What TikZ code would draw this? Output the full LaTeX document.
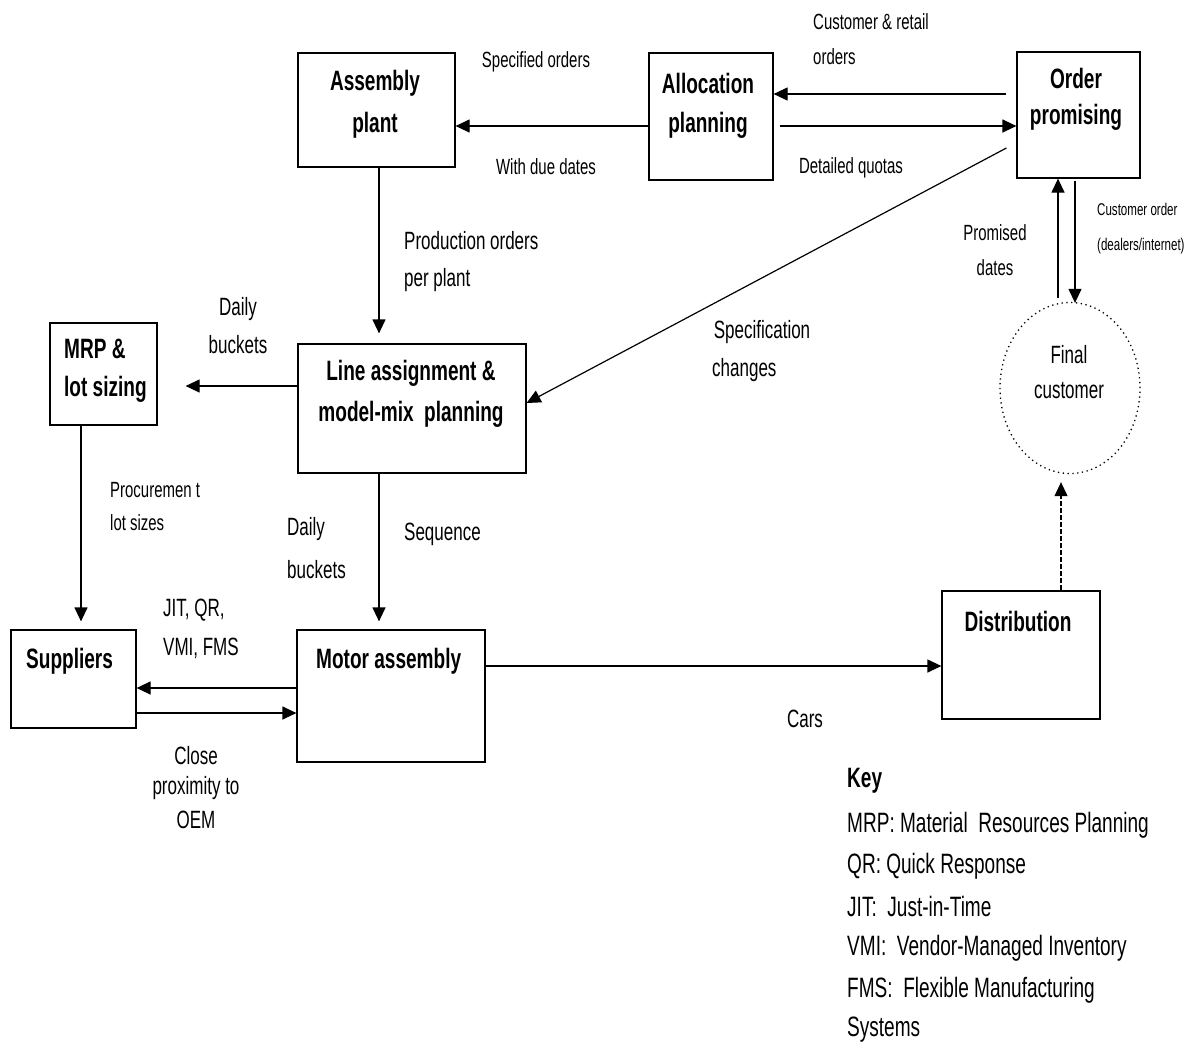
\documentclass[tikz,border=0pt]{standalone}
\usepackage{fontspec}
\setmainfont[FakeStretch=0.68]{Liberation Sans}
\usetikzlibrary{arrows.meta,shapes.geometric}
\begin{document}
\begin{tikzpicture}[x=1pt,y=-1pt,
  box/.style={draw, line width=1.2pt, inner sep=0pt},
  arr/.style={line width=1.2pt, -{Triangle[length=14pt,width=13pt]}},
  btxt/.style={font=\fontsize{28}{34}\selectfont\bfseries, inner sep=0pt, align=center},
  lbl/.style={font=\fontsize{25}{30}\selectfont, inner sep=0pt, align=center},
  lbls/.style={font=\fontsize{22}{27}\selectfont, inner sep=0pt, align=center},
  lblxs/.style={font=\fontsize{17}{20}\selectfont, inner sep=0pt},
  keytxt/.style={font=\fontsize{28}{34}\selectfont, inner sep=0pt, anchor=west}]
\useasboundingbox (0,0) rectangle (1189,1045);
% boxes
\node[box, minimum width=157pt, minimum height=114pt] (ap) at (376.5,110) {};
\node[box, minimum width=124pt, minimum height=127pt] (al) at (711,116.5) {};
\node[box, minimum width=123pt, minimum height=126pt] (op) at (1078.5,115) {};
\node[box, minimum width=107pt, minimum height=102pt] (mrp) at (103.5,374) {};
\node[box, minimum width=228pt, minimum height=129pt] (la) at (412,408.5) {};
\node[box, minimum width=125pt, minimum height=98pt] (sup) at (73.5,679) {};
\node[box, minimum width=188pt, minimum height=132pt] (ma) at (391,696) {};
\node[box, minimum width=158pt, minimum height=128pt] (dist) at (1021,655) {};
\node[draw, line width=1.3pt, dash pattern=on 1.3pt off 3.5pt, ellipse, minimum width=140pt, minimum height=171pt, inner sep=0pt] (fc) at (1070,388) {};
% box texts
\node[btxt] (tap1) at (375,83) {Assembly};
\node[btxt] (tap2) at (375,125) {plant};
\node[btxt] (tal1) at (708,83) {Allocation};
\node[btxt] (tal2) at (708,125) {planning};
\node[btxt] (top1) at (1076,78) {Order};
\node[btxt] (top2) at (1076,117) {promising};
\node[btxt, anchor=west] (tmrp1) at (64,349) {MRP \&};
\node[btxt, anchor=west] (tmrp2) at (64,389) {lot sizing};
\node[btxt] (tla1) at (411,373) {Line assignment \&};
\node[btxt] (tla2) at (411,414) {model-mix\ \ planning};
\node[btxt, anchor=west] (tsup) at (26,661) {Suppliers};
\node[btxt, anchor=west] (tma) at (316,661) {Motor assembly};
\node[btxt] (tdist) at (1018,621) {Distribution};
\node[lbl] (tfc1) at (1069,355) {Final};
\node[lbl] (tfc2) at (1069,391) {customer};
% arrows
\draw[arr] ([yshift=-9.5pt]al.west) -- ([yshift=-16pt]ap.east);
\draw[arr] ([xshift=-10pt,yshift=21pt]op.west) -- ([yshift=22.5pt]al.east);
\draw[arr] ([xshift=6pt,yshift=-9.5pt]al.east) -- ([yshift=-11pt]op.west);
\draw[arr] ([xshift=-10pt,yshift=-33pt]op.west) -- ([yshift=5.5pt]la.east);
\draw[arr] ([xshift=2.5pt]ap.south) -- ([xshift=-33pt,yshift=10pt]la.north);
\draw[arr] ([yshift=22.5pt]la.west) -- ([xshift=28pt,yshift=-12pt]mrp.east);
\draw[arr] ([xshift=-22.5pt]mrp.south) -- ([xshift=7.5pt,yshift=8pt]sup.north);
\draw[arr] ([xshift=-33pt]la.south) -- ([xshift=-12pt,yshift=8pt]ma.north);
\draw[arr] ([yshift=8pt]ma.west) -- ([yshift=-9pt]sup.east);
\draw[arr] ([yshift=-34pt]sup.east) -- ([yshift=-17pt]ma.west);
\draw[arr] ([yshift=30pt]ma.east) -- ([yshift=-11pt]dist.west);
\draw[arr, dash pattern=on 5pt off 2pt] ([xshift=40pt]dist.north) -- ([xshift=-9pt,yshift=-8pt]fc.south);
\draw[arr] ([xshift=-12pt,yshift=4pt]fc.north) -- ([xshift=-20.5pt]op.south);
\draw[arr] ([xshift=-3.5pt,yshift=-2pt]op.south) -- ([xshift=5pt,yshift=-1pt]fc.north);
% labels
\node[lbls, anchor=west] (l1) at (813,22) {Customer \& retail};
\node[lbls, anchor=west] (l2) at (813,57) {orders};
\node[lbls] (l3) at (536,62) {Specified orders};
\node[lbls] (l4) at (546,167) {With due dates};
\node[lbls] (l5) at (851,168) {Detailed quotas};
\node[lbls] (l6) at (995,233) {Promised};
\node[lbls] (l7) at (995,268) {dates};
\node[lblxs, anchor=west] (l8) at (1097,209) {Customer order};
\node[lblxs, anchor=west] (l9) at (1097,246) {(dealers/internet)};
\node[lbl, anchor=west] (l10) at (404,241) {Production orders};
\node[lbl, anchor=west] (l11) at (404,280) {per plant};
\node[lbl] (l12) at (238,309) {Daily};
\node[lbl] (l13) at (238,345) {buckets};
\node[lbl] (l14) at (762,332) {Specification};
\node[lbl, anchor=west] (l15) at (712,370) {changes};
\node[lbls, anchor=west] (l16) at (110,490) {Procuremen t};
\node[lbls, anchor=west] (l17) at (110,523) {lot sizes};
\node[lbl, anchor=west] (l18) at (287,529) {Daily};
\node[lbl, anchor=west] (l19) at (287,570) {buckets};
\node[lbl, anchor=west] (l20) at (404,534) {Sequence};
\node[lbl, anchor=west] (l21) at (163,610) {JIT, QR,};
\node[lbl, anchor=west] (l22) at (163,648) {VMI, FMS};
\node[lbl] (l23) at (196,756) {Close};
\node[lbl] (l24) at (196,788) {proximity to};
\node[lbl] (l25) at (196,820) {OEM};
\node[lbl] (l26) at (805,719) {Cars};
% key
\node[keytxt, font=\fontsize{28}{34}\selectfont\bfseries] (k0) at (847,781) {Key};
\node[keytxt] (k1) at (847,825) {MRP: Material\ \ Resources Planning};
\node[keytxt] (k2) at (847,866) {QR: Quick Response};
\node[keytxt] (k3) at (847,906) {JIT:\ \ Just-in-Time};
\node[keytxt] (k4) at (847,948) {VMI:\ \ Vendor-Managed Inventory};
\node[keytxt] (k5) at (847,990) {FMS:\ \ Flexible Manufacturing};
\node[keytxt] (k6) at (847,1030) {Systems};
\end{tikzpicture}
\end{document}
